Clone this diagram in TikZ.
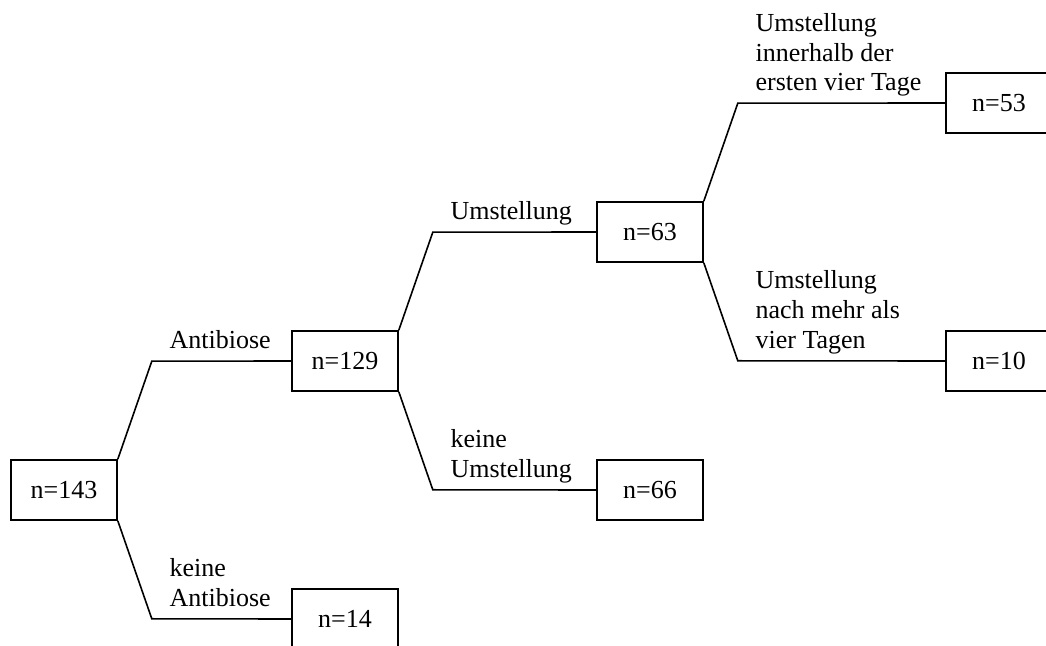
\documentclass[tikz,border=0pt]{standalone}
\usepackage{fontspec}
\setmainfont{Liberation Serif}
\usetikzlibrary{positioning}
\tikzset{
  box/.style={draw, line width=0.8pt, minimum width=53pt, minimum height=30pt, inner sep=0pt},
  lab/.style={pos=0, anchor=south west, align=left, inner sep=0pt, text depth=0pt,
    xshift=8.5pt, yshift=5.7pt}
}

\begin{document}
\begin{tikzpicture}[x=0.5pt,y=-0.5pt,font=\fontsize{13pt}{14.9pt}\selectfont]
        \useasboundingbox (0,0) rectangle (1046,646);
        \node[box] (n143) at (64,490) {n=143};
        \node[box] (n129) at (345,361) {n=129};
        \node[box] (n14) at (345,619) {n=14};
        \node[box] (n63) at (650,232) {n=63};
        \node[box] (n66) at (650,490) {n=66};
        \node[box] (n53) at (999,103) {n=53};
        \node[box] (n10) at (999,361) {n=10};
        \foreach \a/\b/\t in {n143/n129/Antibiose, n129/n63/Umstellung,
            n63/n53/{Umstellung\\innerhalb der\\ersten vier Tage}}
        \draw[line width=0.8pt] (\a.north east) -- ++(34,-98) -- node[lab] {\t} (\b.west);
        \foreach \a/\b/\t in {n143/n14/{keine\\Antibiose}, n129/n66/{keine\\Umstellung},
            n63/n10/{Umstellung\\nach mehr als\\vier Tagen}}
        \draw[line width=0.8pt] (\a.south east) -- ++(34,98) -- node[lab] {\t} (\b.west);
    \end{tikzpicture}
\end{document}
